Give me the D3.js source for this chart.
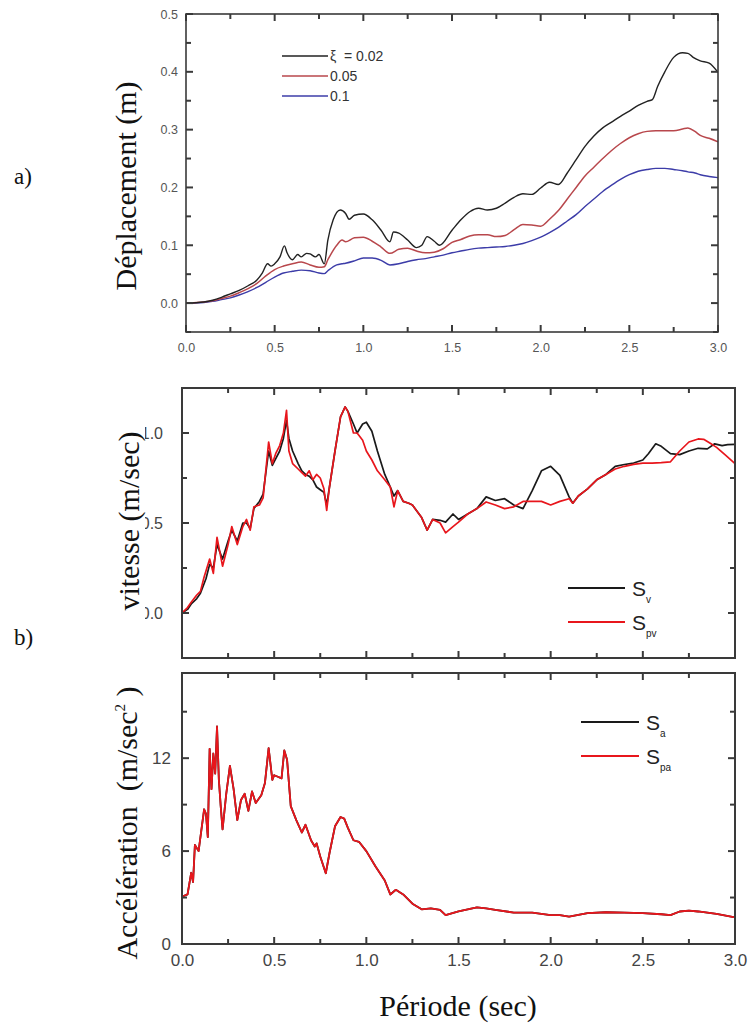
<!DOCTYPE html>
<html><head><meta charset="utf-8">
<script src="https://cdn.jsdelivr.net/npm/d3@7"></script>
<style>body{margin:0;background:#fff} svg{display:block}</style>
</head><body>
<svg id="c" width="748" height="1028"></svg>
<script>
// ---------- tick labels ----------
const periodTicks = [0, 0.5, 1, 1.5, 2, 2.5, 3];
const periodTickLabels = ["0.0", "0.5", "1.0", "1.5", "2.0", "2.5", "3.0"];
const periodMinor = [0.25, 0.75, 1.25, 1.75, 2.25, 2.75];
const dispTicks = [0, 0.1, 0.2, 0.3, 0.4, 0.5];
const dispTickLabels = ["0.0", "0.1", "0.2", "0.3", "0.4", "0.5"];
const dispMinor = [-0.05, 0.05, 0.15, 0.25, 0.35, 0.45];
const velTicks = [0, 0.5, 1.0];
const velTickLabels = ["0.0", "0.5", "1.0"];
const velMinor = [-0.25, 0.25, 0.75];
const accTicks = [0, 6, 12];
const accTickLabels = ["0", "6", "12"];
const accMinor = [3, 9, 15];
const dampingLabels = ["ξ  = 0.02", "0.05", "0.1"];

// ---------- a) displacement ----------
const periodD002 = [0,0.1,0.15,0.2,0.25,0.3,0.35,0.4,0.43,0.46,0.48,0.5,0.53,0.555,0.57,0.6,0.63,0.65,0.68,0.7,0.73,0.75,0.78,0.8,0.83,0.87,0.9,0.92,0.95,1.0,1.05,1.1,1.15,1.17,1.2,1.25,1.3,1.33,1.36,1.4,1.43,1.5,1.55,1.6,1.65,1.7,1.75,1.8,1.85,1.9,1.95,2.0,2.05,2.1,2.15,2.2,2.25,2.3,2.35,2.4,2.45,2.5,2.55,2.6,2.63,2.66,2.7,2.75,2.8,2.83,2.86,2.9,2.95,3.0];
const disp002 = [0,0.002,0.005,0.01,0.016,0.022,0.03,0.04,0.052,0.068,0.064,0.068,0.08,0.099,0.087,0.075,0.084,0.08,0.086,0.085,0.08,0.084,0.068,0.109,0.144,0.161,0.155,0.145,0.152,0.154,0.144,0.126,0.106,0.123,0.121,0.109,0.096,0.1,0.115,0.107,0.1,0.126,0.144,0.158,0.164,0.161,0.164,0.173,0.183,0.189,0.188,0.199,0.209,0.205,0.225,0.248,0.271,0.289,0.303,0.313,0.323,0.332,0.342,0.349,0.352,0.375,0.4,0.425,0.433,0.432,0.425,0.419,0.415,0.399];
const periodD = [0,0.1,0.15,0.2,0.25,0.3,0.35,0.4,0.45,0.5,0.55,0.6,0.65,0.7,0.75,0.78,0.8,0.85,0.88,0.9,0.95,1.0,1.05,1.1,1.15,1.2,1.25,1.3,1.35,1.4,1.45,1.5,1.55,1.6,1.65,1.7,1.75,1.8,1.85,1.9,1.95,2.0,2.05,2.1,2.15,2.2,2.25,2.3,2.35,2.4,2.45,2.5,2.55,2.6,2.65,2.7,2.75,2.8,2.83,2.87,2.9,2.95,3.0];
const disp005 = [0,0.002,0.004,0.008,0.012,0.018,0.025,0.034,0.047,0.058,0.064,0.068,0.071,0.066,0.062,0.063,0.075,0.1,0.109,0.106,0.113,0.114,0.107,0.097,0.086,0.093,0.095,0.09,0.087,0.088,0.094,0.105,0.11,0.116,0.118,0.118,0.115,0.117,0.127,0.136,0.135,0.133,0.145,0.16,0.18,0.2,0.22,0.235,0.25,0.264,0.276,0.286,0.293,0.297,0.298,0.298,0.298,0.301,0.303,0.297,0.29,0.285,0.279];
const disp01 = [0,0.001,0.003,0.006,0.009,0.014,0.02,0.027,0.036,0.045,0.052,0.055,0.057,0.056,0.052,0.051,0.056,0.066,0.068,0.069,0.073,0.078,0.078,0.074,0.066,0.068,0.072,0.075,0.077,0.08,0.083,0.087,0.09,0.093,0.095,0.096,0.097,0.098,0.1,0.103,0.108,0.114,0.122,0.131,0.142,0.153,0.167,0.18,0.193,0.204,0.214,0.222,0.228,0.231,0.233,0.233,0.231,0.229,0.227,0.225,0.222,0.219,0.217];

// ---------- b) velocity ----------
const periodSv = [0,0.03,0.05,0.08,0.1,0.13,0.15,0.17,0.19,0.22,0.25,0.27,0.3,0.33,0.35,0.37,0.39,0.42,0.44,0.47,0.49,0.51,0.53,0.55,0.567,0.58,0.6,0.63,0.65,0.67,0.69,0.71,0.73,0.75,0.77,0.785,0.8,0.83,0.86,0.885,0.9,0.93,0.95,0.98,1.0,1.03,1.06,1.1,1.13,1.15,1.17,1.2,1.23,1.25,1.3,1.33,1.36,1.4,1.43,1.47,1.5,1.55,1.6,1.65,1.7,1.75,1.8,1.85,1.9,1.95,2.0,2.05,2.1,2.12,2.15,2.2,2.25,2.3,2.35,2.4,2.45,2.5,2.53,2.57,2.6,2.65,2.7,2.75,2.8,2.85,2.89,2.93,2.96,3.0];
const Sv = [0,0.02,0.05,0.08,0.11,0.19,0.27,0.25,0.38,0.3,0.4,0.46,0.4,0.5,0.5,0.47,0.58,0.62,0.66,0.9,0.82,0.86,0.9,0.97,1.07,0.97,0.9,0.83,0.79,0.77,0.76,0.74,0.7,0.685,0.67,0.6,0.7,0.9,1.09,1.145,1.12,1.05,1.0,1.05,1.06,1.01,0.9,0.77,0.7,0.65,0.68,0.62,0.61,0.6,0.53,0.46,0.52,0.515,0.505,0.55,0.52,0.55,0.58,0.645,0.625,0.635,0.6,0.58,0.68,0.79,0.815,0.765,0.645,0.61,0.65,0.69,0.74,0.77,0.815,0.825,0.833,0.85,0.885,0.94,0.926,0.885,0.88,0.9,0.915,0.912,0.94,0.93,0.935,0.937];
const periodSpv = [0,0.03,0.05,0.08,0.1,0.12,0.15,0.17,0.19,0.22,0.25,0.27,0.3,0.33,0.35,0.37,0.39,0.42,0.44,0.47,0.49,0.51,0.53,0.55,0.567,0.58,0.6,0.63,0.65,0.67,0.69,0.71,0.73,0.75,0.77,0.785,0.8,0.83,0.86,0.885,0.9,0.93,0.95,0.98,1.0,1.03,1.06,1.1,1.13,1.15,1.17,1.2,1.23,1.25,1.3,1.33,1.36,1.4,1.43,1.47,1.5,1.55,1.6,1.65,1.7,1.75,1.8,1.85,1.9,1.95,2.0,2.05,2.1,2.12,2.15,2.2,2.25,2.3,2.35,2.4,2.45,2.5,2.55,2.6,2.65,2.7,2.75,2.8,2.83,2.87,2.9,2.95,3.0];
const Spv = [0,0.03,0.06,0.1,0.12,0.2,0.3,0.22,0.42,0.26,0.38,0.48,0.38,0.48,0.52,0.46,0.59,0.6,0.64,0.95,0.83,0.89,0.93,1.0,1.126,0.9,0.83,0.8,0.78,0.76,0.79,0.74,0.77,0.75,0.69,0.57,0.7,0.9,1.09,1.145,1.12,1.0,1.0,0.96,0.9,0.85,0.79,0.74,0.7,0.59,0.68,0.62,0.61,0.6,0.53,0.46,0.52,0.5,0.445,0.48,0.505,0.55,0.58,0.617,0.6,0.58,0.59,0.62,0.62,0.62,0.6,0.62,0.635,0.61,0.65,0.69,0.74,0.77,0.8,0.815,0.826,0.833,0.833,0.835,0.84,0.9,0.95,0.967,0.965,0.94,0.92,0.876,0.83];

// ---------- acceleration ----------
const periodA = [0,0.03,0.05,0.06,0.07,0.09,0.1,0.12,0.13,0.14,0.15,0.16,0.17,0.18,0.19,0.2,0.21,0.22,0.24,0.26,0.28,0.3,0.32,0.34,0.36,0.38,0.4,0.43,0.45,0.47,0.49,0.5,0.52,0.54,0.555,0.57,0.59,0.62,0.65,0.67,0.7,0.72,0.73,0.75,0.78,0.8,0.83,0.86,0.88,0.9,0.93,0.96,1.0,1.05,1.1,1.13,1.16,1.2,1.25,1.3,1.35,1.4,1.43,1.5,1.55,1.6,1.65,1.7,1.8,1.9,2.0,2.05,2.1,2.2,2.3,2.4,2.5,2.6,2.65,2.7,2.75,2.8,2.9,3.0];
const Sa = [3.06,3.2,4.6,4.0,6.4,6.0,6.9,8.7,8.4,6.9,12.6,10.0,12.3,11.0,14.05,10.6,8.9,7.4,9.7,11.5,10.0,8.0,9.3,9.7,8.6,9.85,9.1,9.6,10.4,12.65,10.6,10.9,10.8,10.7,12.5,11.9,8.9,8.0,7.2,7.7,6.7,6.3,6.5,5.65,4.57,5.86,7.6,8.2,8.1,7.5,6.7,6.6,6.0,5.0,4.1,3.2,3.5,3.2,2.6,2.24,2.3,2.2,1.87,2.1,2.24,2.37,2.3,2.2,2.03,2.03,1.87,1.87,1.77,2.0,2.05,2.03,2.0,1.92,1.87,2.1,2.15,2.1,1.94,1.72];
const Spa = [3.06,3.2,4.6,4.0,6.4,6.0,6.9,8.7,8.4,6.9,12.6,10.0,12.3,11.0,14.05,10.6,8.9,7.4,9.7,11.5,10.0,8.0,9.3,9.7,8.6,9.85,9.1,9.6,10.4,12.65,10.6,10.9,10.8,10.7,12.5,11.9,8.9,8.0,7.2,7.7,6.7,6.3,6.5,5.65,4.57,5.86,7.6,8.2,8.1,7.5,6.7,6.6,6.0,5.0,4.1,3.2,3.5,3.2,2.6,2.24,2.3,2.2,1.87,2.1,2.24,2.37,2.3,2.2,2.03,2.03,1.87,1.87,1.77,2.0,2.05,2.03,2.0,1.92,1.87,2.1,2.15,2.1,1.94,1.72];

const svg = d3.select("#c");
const SANS = "'Liberation Sans', Arial, sans-serif";
const SERIF = "'Liberation Serif', 'Times New Roman', serif";

function zip(t, v) { return t.map((d, i) => [d, v[i]]); }

function panel(o) {
  const x = d3.scaleLinear().domain([0, 3]).range([o.x0, o.x1]);
  const y = d3.scaleLinear().domain(o.yDomain).range([o.y1, o.y0]);
  const g = svg.append("g");
  if (o.xLabels) {
    const ax = g.append("g").attr("transform", `translate(0,${o.y1})`)
      .call(d3.axisBottom(x).tickValues(periodTicks).tickFormat((d, i) => periodTickLabels[i]).tickSize(0).tickPadding(o.pad));
    ax.select(".domain").remove();
    ax.selectAll("text").attr("font-family", SANS).attr("font-size", o.fs).attr("fill", o.tcol);
  }
  const ay = g.append("g").attr("transform", `translate(${o.x0},0)`)
    .call(d3.axisLeft(y).tickValues(o.yTicks).tickFormat((d, i) => o.yLabels[i]).tickSize(0).tickPadding(o.ypad));
  ay.select(".domain").remove();
  ay.selectAll("text").attr("font-family", SANS).attr("font-size", o.fs).attr("fill", o.tcol);

  const cid = "clip" + Math.round(o.y0);
  svg.append("clipPath").attr("id", cid).append("rect")
    .attr("x", o.x0).attr("y", o.y0).attr("width", o.x1 - o.x0).attr("height", o.y1 - o.y0);
  const lg = g.append("g").attr("clip-path", `url(#${cid})`);
  o.series.forEach(s => {
    lg.append("path").datum(zip(s.t, s.v))
      .attr("fill", "none").attr("stroke", s.color).attr("stroke-width", s.w)
      .attr("stroke-linejoin", "round")
      .attr("d", d3.line().x(d => x(d[0])).y(d => y(d[1])).curve(o.curve));
  });

  // inward ticks on all four sides
  const tg = g.append("g").attr("stroke", o.frame).attr("stroke-width", 2);
  const xt = periodTicks.map(v => ({ v, L: 7 })).concat(periodMinor.map(v => ({ v, L: 5 })));
  const yt = o.yTicks.map(v => ({ v, L: 7 })).concat(o.yMinor.map(v => ({ v, L: 5 })));
  tg.selectAll("line.xb").data(xt).join("line").attr("class", "xb")
    .attr("x1", d => x(d.v)).attr("x2", d => x(d.v)).attr("y1", o.y1).attr("y2", d => o.y1 - d.L);
  tg.selectAll("line.xt").data(xt).join("line").attr("class", "xt")
    .attr("x1", d => x(d.v)).attr("x2", d => x(d.v)).attr("y1", o.y0).attr("y2", d => o.y0 + d.L);
  tg.selectAll("line.yl").data(yt).join("line").attr("class", "yl")
    .attr("y1", d => y(d.v)).attr("y2", d => y(d.v)).attr("x1", o.x0).attr("x2", d => o.x0 + d.L);
  tg.selectAll("line.yr").data(yt).join("line").attr("class", "yr")
    .attr("y1", d => y(d.v)).attr("y2", d => y(d.v)).attr("x1", o.x1).attr("x2", d => o.x1 - d.L);

  g.append("rect").attr("x", o.x0).attr("y", o.y0).attr("width", o.x1 - o.x0).attr("height", o.y1 - o.y0)
    .attr("fill", "none").attr("stroke", o.frame).attr("stroke-width", o.fw);
  return { x, y, g };
}

panel({
  x0: 186, x1: 718, y0: 14, y1: 332, yDomain: [-0.05, 0.5],
  yTicks: dispTicks, yLabels: dispTickLabels, yMinor: dispMinor, xLabels: true,
  fs: 12.5, tcol: "#555", pad: 11, ypad: 8, frame: "#3a3a3a", fw: 1.6,
  curve: d3.curveMonotoneX,
  series: [
    { t: periodD, v: disp01, color: "#3c3ca8", w: 1.4 },
    { t: periodD, v: disp005, color: "#b8474c", w: 1.5 },
    { t: periodD002, v: disp002, color: "#222", w: 1.4 }
  ]
});

panel({
  x0: 182, x1: 735, y0: 388, y1: 658, yDomain: [-0.25, 1.25],
  yTicks: velTicks, yLabels: velTickLabels, yMinor: velMinor, xLabels: false,
  fs: 16, tcol: "#444", pad: 8, ypad: 19, frame: "#3a3a3a", fw: 2,
  curve: d3.curveLinear,
  series: [
    { t: periodSv, v: Sv, color: "#1a1a1a", w: 1.7 },
    { t: periodSpv, v: Spv, color: "#e8161c", w: 1.7 }
  ]
});

panel({
  x0: 182, x1: 735, y0: 673, y1: 944, yDomain: [0, 17.5],
  yTicks: accTicks, yLabels: accTickLabels, yMinor: accMinor, xLabels: true,
  fs: 17, tcol: "#444", pad: 10, ypad: 11, frame: "#3a3a3a", fw: 2,
  curve: d3.curveLinear,
  series: [
    { t: periodA, v: Sa, color: "#1a1a1a", w: 1.8 },
    { t: periodA, v: Spa, color: "#e8161c", w: 1.8 }
  ]
});

// ---------- titles ----------
function vTitle(cx, cy) {
  return svg.append("text").attr("transform", `translate(${cx},${cy}) rotate(-90)`)
    .attr("text-anchor", "middle").attr("font-family", SERIF).attr("font-size", 30).attr("fill", "#111")
    .style("white-space", "pre");
}
vTitle(136, 186).text("Déplacement (m)");
svg.append("rect").attr("x", 112).attr("y", 425).attr("width", 33).attr("height", 195).attr("fill", "#fff");
vTitle(139, 521).text("vitesse (m/sec)");
{
  const t = vTitle(137, 823);
  t.append("tspan").text("Accélération  (m/sec");
  t.append("tspan").attr("font-size", 15).attr("dy", -12).text("2");
  t.append("tspan").attr("dy", 12).text(" )");
}
svg.append("text").attr("x", 458).attr("y", 1016).attr("text-anchor", "middle")
  .attr("font-family", SERIF).attr("font-size", 30).attr("fill", "#111").text("Période (sec)");
svg.append("text").attr("x", 14).attr("y", 184).attr("font-family", SERIF).attr("font-size", 23).attr("fill", "#111").text("a)");
svg.append("text").attr("x", 14).attr("y", 645).attr("font-family", SERIF).attr("font-size", 23).attr("fill", "#111").text("b)");

// ---------- legends ----------
const legA = [{ c: "#222", y: 56 }, { c: "#b8474c", y: 76 }, { c: "#3c3ca8", y: 96 }];
legA.forEach((d, i) => {
  svg.append("line").attr("x1", 282).attr("x2", 328).attr("y1", d.y).attr("y2", d.y).attr("stroke", d.c).attr("stroke-width", 1.6);
  svg.append("text").attr("x", 330).attr("y", d.y + 5).attr("font-family", SANS).attr("font-size", 14)
    .attr("fill", "#333").style("white-space", "pre").text(dampingLabels[i]);
});
function legS(x1, x2, y, color, sub, tx) {
  svg.append("line").attr("x1", x1).attr("x2", x2).attr("y1", y).attr("y2", y).attr("stroke", color).attr("stroke-width", 1.8);
  const t = svg.append("text").attr("x", tx).attr("y", y + 8).attr("font-family", SANS).attr("font-size", 21).attr("fill", "#222");
  t.append("tspan").text("S");
  t.append("tspan").attr("font-size", 10).attr("dy", 7).text(sub);
}
legS(568, 625, 588, "#1a1a1a", "v", 632);
legS(568, 625, 622, "#e8161c", "pv", 632);
legS(581, 639, 722, "#1a1a1a", "a", 646);
legS(581, 639, 756, "#e8161c", "pa", 646);
</script>
</body></html>
